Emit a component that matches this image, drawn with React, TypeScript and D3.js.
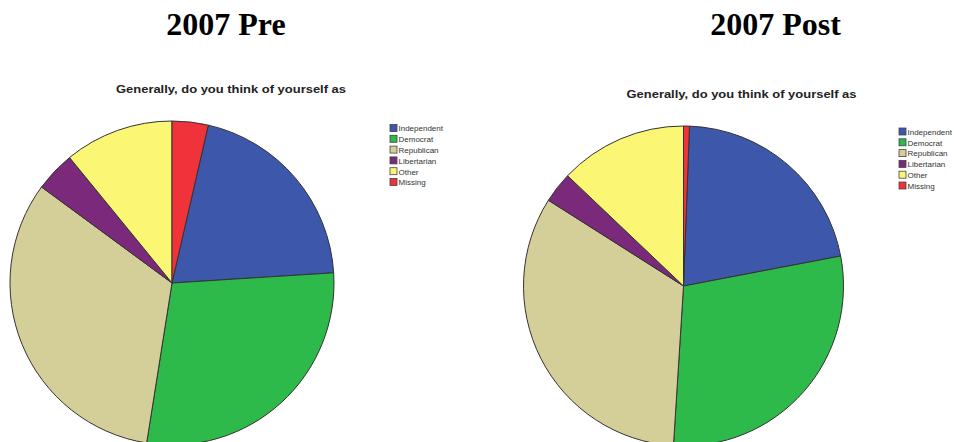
import React from "react";
import * as d3 from "d3";

const categories = ["Independent", "Democrat", "Republican", "Libertarian", "Other", "Missing"];
const colors = ["#3d58ab", "#2eb94b", "#d4cf98", "#7b2a7b", "#fbf774", "#f0323a"];
const preValues = [20.4, 28.5, 32.6, 4.0, 10.9, 3.6];
const postValues = [21.4, 29.0, 33.0, 3.1, 12.9, 0.6];
const panelTitles = ["2007 Pre", "2007 Post"];
const subtitle = "Generally, do you think of yourself as";

type Panel = {
  title: string;
  values: number[];
  titleX: number;
  subX: number;
  subY: number;
  cx: number;
  cy: number;
  r: number;
  legX: number;
  legY: number;
};

const panels: Panel[] = [
  { title: panelTitles[0], values: preValues, titleX: 226, subX: 231, subY: 93, cx: 172, cy: 283, r: 162, legX: 390, legY: 124.5 },
  { title: panelTitles[1], values: postValues, titleX: 775.5, subX: 741.5, subY: 98, cx: 683.5, cy: 286, r: 160, legX: 899, legY: 128 },
];

function PiePanel({ p }: { p: Panel }) {
  const total = d3.sum(p.values);
  const missingShare = p.values[p.values.length - 1] / total;
  const start = missingShare * 2 * Math.PI;
  const pie = d3
    .pie<number>()
    .sort(null)
    .value((d) => d)
    .startAngle(start)
    .endAngle(start + 2 * Math.PI);
  const arcs = pie(p.values);
  const arc = d3.arc<d3.PieArcDatum<number>>().innerRadius(0).outerRadius(p.r);
  const step = 10.8;
  return (
    <g>
      <text x={p.titleX} y={35} textAnchor="middle" fontFamily="'Liberation Serif', 'Times New Roman', serif" fontWeight="bold" fontSize={32} fill="#000">
        {p.title}
      </text>
      <text x={p.subX} y={p.subY} textAnchor="middle" fontFamily="'Liberation Sans', Arial, sans-serif" fontWeight="bold" fontSize={11} fill="#222" textLength={230} lengthAdjust="spacingAndGlyphs">
        {subtitle}
      </text>
      <g transform={`translate(${p.cx},${p.cy})`}>
        {arcs.map((a, i) => (
          <path key={i} d={arc(a) || ""} fill={colors[i]} stroke="#333" strokeWidth={1} strokeLinejoin="round" />
        ))}
      </g>
      <g>
        {categories.map((c, i) => (
          <g key={c} transform={`translate(${p.legX},${p.legY + i * step})`}>
            <rect x={0} y={0} width={7} height={7} fill={colors[i]} stroke="#444" strokeWidth={0.8} />
            <text x={8.5} y={6.8} fontFamily="'Liberation Sans', Arial, sans-serif" fontSize={8} fill="#333">
              {c}
            </text>
          </g>
        ))}
      </g>
    </g>
  );
}

export default function App() {
  return (
    <svg width={954} height={442} viewBox="0 0 954 442" style={{ position: "absolute", left: 0, top: 0, display: "block", background: "#fff" }}>
      <rect x={0} y={0} width={954} height={442} fill="#fff" />
      {panels.map((p) => (
        <PiePanel key={p.title} p={p} />
      ))}
    </svg>
  );
}
